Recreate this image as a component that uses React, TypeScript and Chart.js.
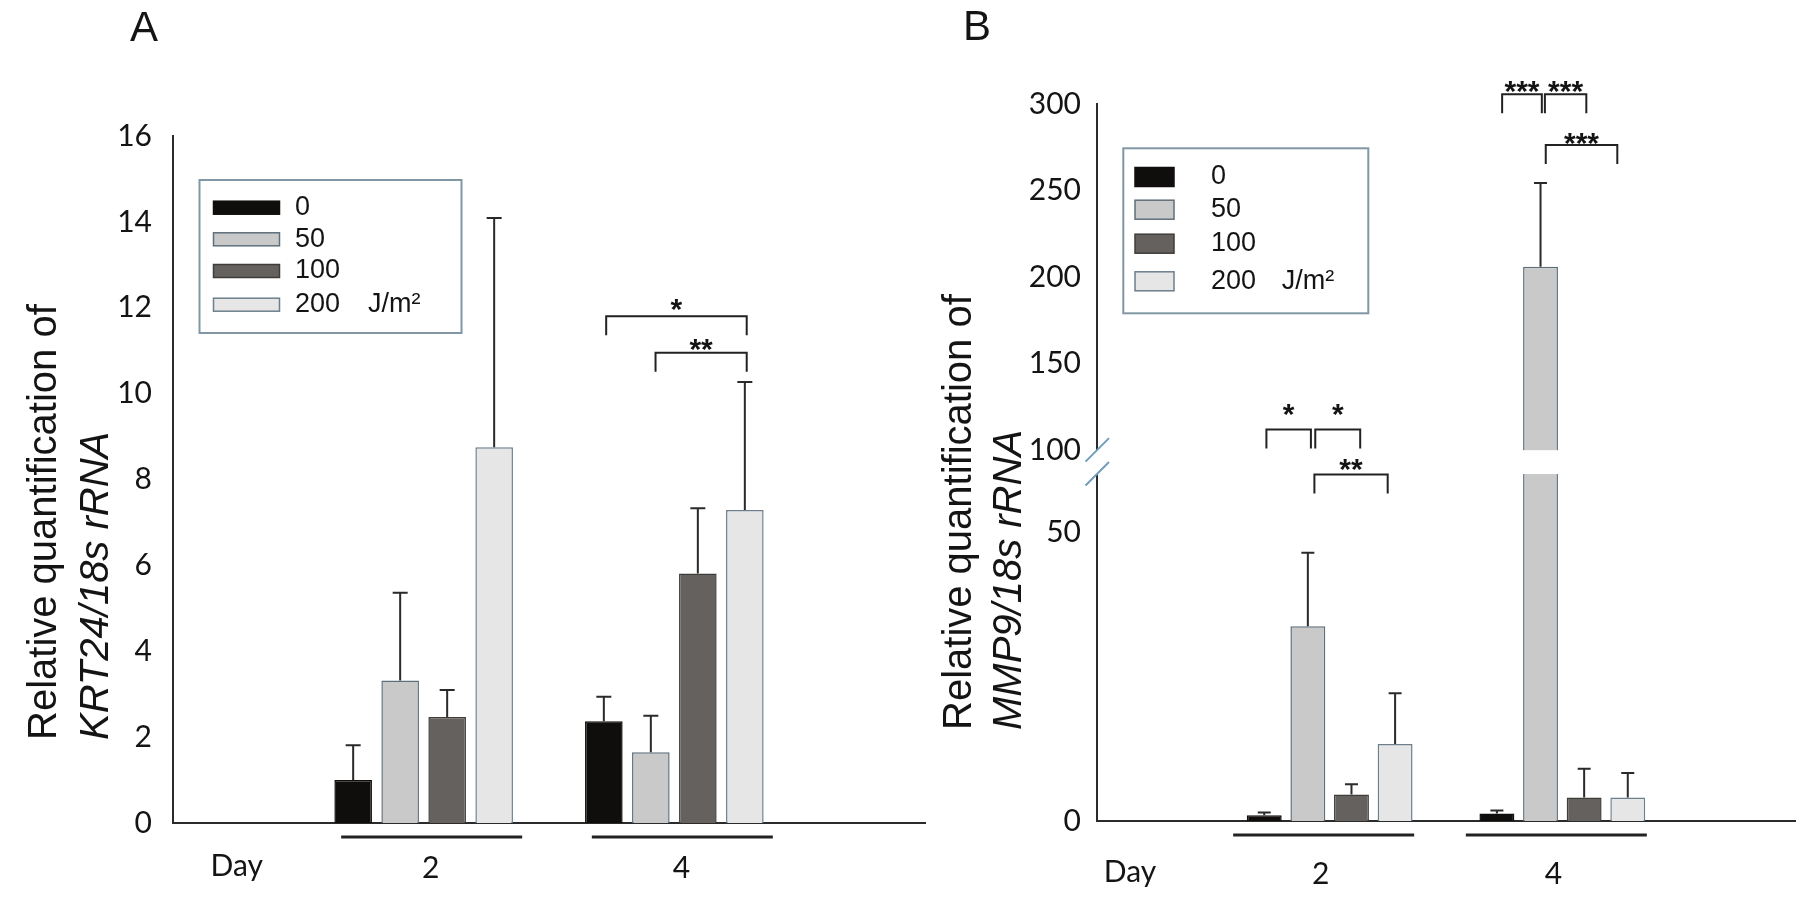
import React, { useEffect, useRef } from 'react';
import { Chart, registerables, LinearScale } from 'chart.js';

Chart.register(...registerables);

// ---------------- data ----------------
const days = [2, 4];
const dayTickLabels = ['2', '4'];
const doseLabels = ['0', '50', '100', '200'];
const doseUnit = 'J/m²';

// Panel A: relative quantification of KRT24/18s rRNA (values at day 2, day 4)
const krt24Dose0 = [1.0, 2.37];
const krt24Dose50 = [3.32, 1.65];
const krt24Dose100 = [2.47, 5.81];
const krt24Dose200 = [8.75, 7.29];
const krt24Err0 = [0.81, 0.57];
const krt24Err50 = [2.04, 0.85];
const krt24Err100 = [0.63, 1.52];
const krt24Err200 = [5.34, 2.98];
const krt24Ticks = [0, 2, 4, 6, 8, 10, 12, 14, 16];

// Panel B: relative quantification of MMP9/18s rRNA (values at day 2, day 4)
const mmp9Dose0 = [1.0, 1.3];
const mmp9Dose50 = [33.7, 206];
const mmp9Dose100 = [4.57, 4.05];
const mmp9Dose200 = [13.3, 4.05];
const mmp9Err0 = [0.45, 0.5];
const mmp9Err50 = [12.7, 48.4];
const mmp9Err100 = [1.78, 4.98];
const mmp9Err200 = [8.8, 4.27];
const mmp9Ticks = [0, 50, 100, 150, 200, 250, 300];

// significance brackets: day index, from/to as (fractional) bar slot, y level & label level in data units
const krt24Sig = [
  { day: 1, from: 0.05, to: 3.04, y: 11.8, labelY: 12.14, text: '*' },
  { day: 1, from: 1.1, to: 3.04, y: 10.95, labelY: 11.21, text: '**' },
];
const mmp9Sig = [
  { day: 0, from: 0.05, to: 1.07, y: 112, labelY: 125, text: '*' },
  { day: 0, from: 1.17, to: 2.2, y: 112, labelY: 125, text: '*' },
  { day: 0, from: 1.15, to: 2.83, y: 59.9, labelY: 81.6, text: '**' },
  { day: 1, from: 0.12, to: 1.03, y: 305.6, labelY: 312, text: '***' },
  { day: 1, from: 1.1, to: 2.05, y: 305.6, labelY: 312, text: '***' },
  { day: 1, from: 1.12, to: 2.76, y: 276.3, labelY: 281.7, text: '***' },
];

// ---------------- styles ----------------
const doseFill = ['#100e0c', '#c9c9c9', '#64615f', '#e6e6e6'];
const doseBorder = ['#100e0c', '#5f6f7a', '#3f3d3b', '#6d7f8c'];
const INK = '#141414';
const AXIS = '#2b2b2b';
const SANS = '"Liberation Sans", Arial, sans-serif';
const TICKFONT = 'Lato, "Open Sans", sans-serif';

// ---------------- broken axis scale ----------------
class BrokenLinearScale extends LinearScale {
  static id = 'brokenLinear';
  static defaults = LinearScale.defaults;
  _brk() {
    const o: any = this.options;
    return {
      lo: o.breakLow ?? 60,
      hi: o.breakHigh ?? 100,
      fl: o.lowFraction ?? 0.48,
      fg: o.gapFraction ?? 0.03,
    };
  }
  getPixelForValue(value: any) {
    if (value === null || value === undefined) return NaN;
    const v = +value;
    const { lo, hi, fl, fg } = this._brk();
    const min = this.min;
    const max = this.max;
    let d: number;
    if (v <= lo) d = ((v - min) / (lo - min)) * fl;
    else if (v >= hi) d = fl + fg + ((v - hi) / (max - hi)) * (1 - fl - fg);
    else d = fl + ((v - lo) / (hi - lo)) * fg;
    return this.getPixelForDecimal(d);
  }
  getValueForPixel(pixel: number) {
    const d = this.getDecimalForPixel(pixel);
    const { lo, hi, fl, fg } = this._brk();
    const min = this.min;
    const max = this.max;
    if (d <= fl) return min + (d / fl) * (lo - min);
    if (d >= fl + fg) return hi + ((d - fl - fg) / (1 - fl - fg)) * (max - hi);
    return lo + ((d - fl) / fg) * (hi - lo);
  }
}
Chart.register(BrokenLinearScale as any);

// ---------------- decorations ----------------
type Sig = { day: number; from: number; to: number; y: number; labelY: number; text: string };
type Deco = {
  letter: string; letterX: number; letterY: number;
  title: [string, string]; titleX: [number, number]; titleY: number;
  legend: { x: number; y: number; w: number; h: number; swX: number; swW: number; swH: number; rows: number[]; textX: number; unitX: number };
  dayX: number; dayY: number;
  underlineDx: number; underlineY: number; underlineW: number;
  capHalf: number;
  sig: Sig[];
  axisBreak?: { low: number; high: number };
};

function decoPlugin(d: Deco) {
  return {
    id: 'deco',
    afterDatasetsDraw(chart: any) {
      const ctx = chart.ctx;
      const ys = chart.scales.y;
      ctx.save();
      ctx.strokeStyle = '#2a2a2a';
      ctx.lineWidth = 2;
      chart.data.datasets.forEach((ds: any, k: number) => {
        const meta = chart.getDatasetMeta(k);
        meta.data.forEach((el: any, i: number) => {
          const v = ds.data[i].y;
          const top = ys.getPixelForValue(v + ds.errors[i]);
          ctx.beginPath();
          ctx.moveTo(el.x, el.y);
          ctx.lineTo(el.x, top);
          ctx.moveTo(el.x - d.capHalf, top);
          ctx.lineTo(el.x + d.capHalf, top);
          ctx.stroke();
        });
      });
      if (d.axisBreak) {
        const yHi = ys.getPixelForValue(d.axisBreak.high);
        const yLo = ys.getPixelForValue(d.axisBreak.low);
        const { left, right } = chart.chartArea;
        ctx.fillStyle = '#ffffff';
        ctx.fillRect(left - 3, yHi, right - left + 3, yLo - yHi);
        ctx.strokeStyle = '#6f9dbb';
        ctx.lineWidth = 2;
        [yHi, yLo].forEach((yc) => {
          ctx.beginPath();
          ctx.moveTo(left - 11.5, yc + 11.5);
          ctx.lineTo(left + 12, yc - 12);
          ctx.stroke();
        });
      }
      ctx.restore();
    },
    afterDraw(chart: any) {
      const ctx = chart.ctx;
      const xs = chart.scales.x;
      const ys = chart.scales.y;
      ctx.save();
      // panel letter
      ctx.fillStyle = INK;
      ctx.font = `42px ${SANS}`;
      ctx.textAlign = 'left';
      ctx.textBaseline = 'alphabetic';
      ctx.fillText(d.letter, d.letterX, d.letterY);
      // y title (two lines, second italic)
      ctx.font = `40px ${SANS}`;
      ctx.save();
      ctx.translate(d.titleX[0], d.titleY);
      ctx.rotate(-Math.PI / 2);
      ctx.fillText(d.title[0], 0, 0);
      ctx.restore();
      ctx.font = `italic 40px ${SANS}`;
      ctx.save();
      ctx.translate(d.titleX[1], d.titleY);
      ctx.rotate(-Math.PI / 2);
      ctx.fillText(d.title[1], 0, 0);
      ctx.restore();
      // group underlines
      ctx.strokeStyle = '#222';
      ctx.lineWidth = 3;
      days.forEach((day) => {
        const cx = xs.getPixelForValue(day) + d.underlineDx;
        ctx.beginPath();
        ctx.moveTo(cx - d.underlineW / 2, d.underlineY);
        ctx.lineTo(cx + d.underlineW / 2, d.underlineY);
        ctx.stroke();
      });
      // "Day"
      ctx.font = `30px ${TICKFONT}`;
      ctx.textAlign = 'center';
      ctx.textBaseline = 'middle';
      ctx.fillText('Day', d.dayX, d.dayY);
      // significance brackets
      const m0 = chart.getDatasetMeta(0);
      const m1 = chart.getDatasetMeta(1);
      const slotX = (day: number, f: number) => {
        const x0 = m0.data[day].x;
        const x1 = m1.data[day].x;
        return x0 + f * (x1 - x0);
      };
      ctx.lineWidth = 2;
      ctx.strokeStyle = '#222';
      const fs = 30;
      ctx.font = `bold ${fs}px ${SANS}`;
      ctx.textBaseline = 'alphabetic';
      d.sig.forEach((s) => {
        const xl = slotX(s.day, s.from);
        const xr = slotX(s.day, s.to);
        const yb = ys.getPixelForValue(s.y);
        ctx.beginPath();
        ctx.moveTo(xl, yb + 19);
        ctx.lineTo(xl, yb);
        ctx.lineTo(xr, yb);
        ctx.lineTo(xr, yb + 19);
        ctx.stroke();
        const ly = ys.getPixelForValue(s.labelY);
        ctx.fillText(s.text, (xl + xr) / 2, ly + 0.58 * fs);
      });
      // legend
      const L = d.legend;
      ctx.strokeStyle = '#8197a5';
      ctx.lineWidth = 2;
      ctx.strokeRect(L.x, L.y, L.w, L.h);
      ctx.font = `27px ${SANS}`;
      ctx.textAlign = 'left';
      ctx.textBaseline = 'middle';
      chart.data.datasets.forEach((ds: any, k: number) => {
        const cy = L.rows[k];
        ctx.fillStyle = ds.backgroundColor;
        ctx.fillRect(L.swX, cy - L.swH / 2, L.swW, L.swH);
        ctx.strokeStyle = ds.borderColor;
        ctx.lineWidth = 1.5;
        ctx.strokeRect(L.swX, cy - L.swH / 2, L.swW, L.swH);
        ctx.fillStyle = INK;
        ctx.fillText(ds.label, L.textX, cy);
        if (k === chart.data.datasets.length - 1) ctx.fillText(doseUnit, L.unitX, cy);
      });
      ctx.restore();
    },
  };
}

function makeDatasets(vals: number[][], errs: number[][]) {
  return vals.map((v, k) => ({
    label: doseLabels[k],
    data: days.map((day, i) => ({ x: day, y: v[i] })),
    errors: errs[k],
    backgroundColor: doseFill[k],
    borderColor: doseBorder[k],
    borderWidth: 1.5,
    categoryPercentage: 0.75,
    barPercentage: 0.8,
  }));
}

function makeConfig(opts: {
  datasets: any[];
  yScale: any;
  yTicks: number[];
  top: number;
  yWidth: number;
  xHeight: number;
  yPad: number;
  xPad: number;
  labelOffset: number;
  deco: Deco;
}) {
  return {
    type: 'bar',
    data: { datasets: opts.datasets },
    options: {
      responsive: false,
      animation: false,
      events: [],
      layout: { padding: { top: opts.top, right: 5, bottom: 0, left: 0 } },
      plugins: { legend: { display: false }, tooltip: { enabled: false } },
      scales: {
        x: {
          type: 'linear',
          min: 0,
          max: 6,
          offset: false,
          grid: { display: false, drawTicks: false },
          border: { display: true, color: AXIS, width: 2 },
          afterBuildTicks: (s: any) => {
            s.ticks = days.map((v) => ({ value: v }));
          },
          afterFit: (s: any) => {
            s.height = opts.xHeight;
          },
          ticks: {
            autoSkip: false,
            maxRotation: 0,
            padding: opts.xPad,
            labelOffset: opts.labelOffset,
            color: INK,
            font: { family: TICKFONT, size: 30 },
            callback: (v: any) => dayTickLabels[days.indexOf(v)] ?? '',
          },
        },
        y: {
          ...opts.yScale,
          grid: { display: false, drawTicks: false },
          border: { display: true, color: AXIS, width: 2 },
          afterBuildTicks: (s: any) => {
            s.ticks = opts.yTicks.map((v) => ({ value: v }));
          },
          afterFit: (s: any) => {
            s.width = opts.yWidth;
          },
          ticks: {
            padding: opts.yPad,
            color: INK,
            font: { family: TICKFONT, size: 30 },
            callback: (v: any) => String(v),
          },
        },
      },
    },
    plugins: [decoPlugin(opts.deco)],
  };
}

const decoA: Deco = {
  letter: 'A', letterX: 130, letterY: 41,
  title: ['Relative quantification of', 'KRT24/18s rRNA'], titleX: [56, 108], titleY: 740,
  legend: { x: 199.5, y: 180, w: 262, h: 153, swX: 213.5, swW: 66, swH: 13, rows: [207.7, 239.3, 271, 304.7], textX: 295, unitX: 368 },
  dayX: 236.7, dayY: 866,
  underlineDx: 8, underlineY: 837, underlineW: 181,
  capHalf: 7.5,
  sig: krt24Sig,
};

const decoB: Deco = {
  letter: 'B', letterX: 63, letterY: 40,
  title: ['Relative quantification of', 'MMP9/18s rRNA'], titleX: [71, 121], titleY: 730,
  legend: { x: 223.3, y: 148.3, w: 245, h: 165, swX: 235, swW: 39, swH: 19, rows: [177, 209.7, 243.7, 281.3], textX: 311, unitX: 381.7 },
  dayX: 230, dayY: 872,
  underlineDx: -6, underlineY: 835, underlineW: 181,
  capHalf: 6.5,
  sig: mmp9Sig,
  axisBreak: { low: 60, high: 100 },
};

const configA = () =>
  makeConfig({
    datasets: makeDatasets(
      [krt24Dose0, krt24Dose50, krt24Dose100, krt24Dose200],
      [krt24Err0, krt24Err50, krt24Err100, krt24Err200]
    ),
    yScale: { type: 'linear', min: 0, max: 16 },
    yTicks: krt24Ticks,
    top: 136,
    yWidth: 173,
    xHeight: 81,
    yPad: 21,
    xPad: 27,
    labelOffset: 7,
    deco: decoA,
  });

const configB = () =>
  makeConfig({
    datasets: makeDatasets(
      [mmp9Dose0, mmp9Dose50, mmp9Dose100, mmp9Dose200],
      [mmp9Err0, mmp9Err50, mmp9Err100, mmp9Err200]
    ),
    yScale: { type: 'brokenLinear', min: 0, max: 300, breakLow: 60, breakHigh: 100, lowFraction: 0.4839, gapFraction: 0.0333 },
    yTicks: mmp9Ticks,
    top: 104,
    yWidth: 197,
    xHeight: 83,
    yPad: 16,
    xPad: 35,
    labelOffset: -9,
    deco: decoB,
  });

function ChartCanvas({ make, left, width }: { make: () => any; left: number; width: number }) {
  const ref = useRef<HTMLCanvasElement | null>(null);
  useEffect(() => {
    if (!ref.current) return;
    const chart = new Chart(ref.current, make());
    return () => chart.destroy();
  }, [make]);
  return (
    <canvas
      ref={ref}
      width={width}
      height={904}
      style={{ position: 'absolute', left, top: 0, width, height: 904 }}
    />
  );
}

export default function App() {
  return (
    <div
      style={{
        position: 'absolute',
        left: 0,
        top: 0,
        width: 1800,
        height: 904,
        background: '#ffffff',
        overflow: 'hidden',
      }}
    >
      <ChartCanvas make={configA} left={0} width={930} />
      <ChartCanvas make={configB} left={900} width={900} />
    </div>
  );
}
